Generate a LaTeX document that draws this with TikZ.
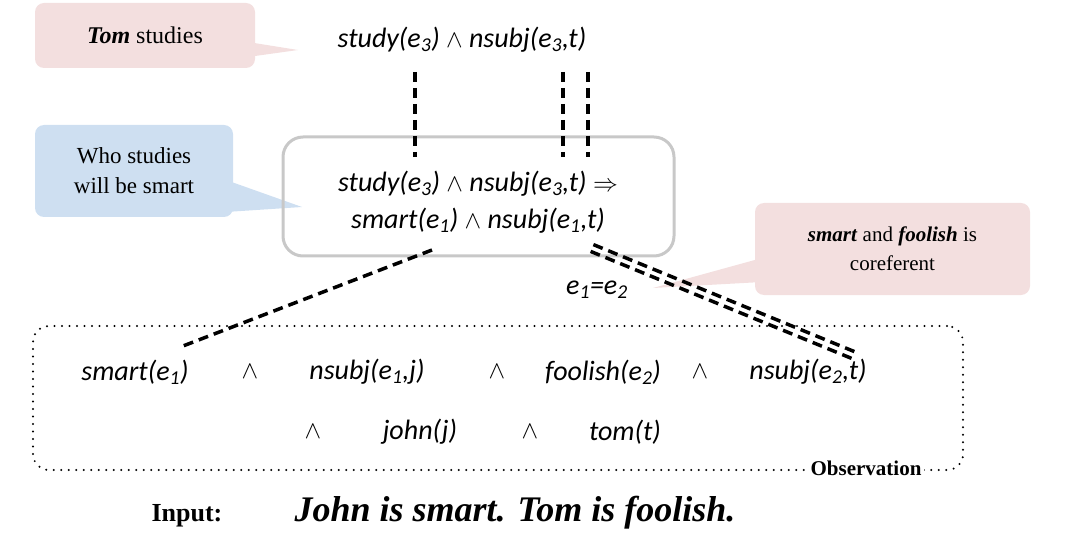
\documentclass[tikz,border=0pt]{standalone}
\usepackage{fontspec}
\setmainfont{Liberation Serif}
\newfontfamily\formfont{Carlito}

\definecolor{notepink}{HTML}{F3DFDF}
\definecolor{noteblue}{HTML}{CEDFF1}
\definecolor{boxgray}{HTML}{C8C8C8}

% evento con pedice
\newcommand{\ev}[1]{e\textsubscript{#1}}
\newcommand{\band}{{\fontsize{33}{37}\selectfont$\wedge$}}

\begin{document}
\begin{tikzpicture}[
		x=1pt, y=-1pt,
		% Stile per i fumetti (commenti in linguaggio naturale)
		note style/.style={rounded corners=9pt, inner sep=0pt, align=center,
			font=\fontsize{23}{30}\selectfont},
		% Stile per le formule logiche
		formula style/.style={inner sep=1pt, font=\formfont\itshape\fontsize{28}{37}\selectfont},
		% Stile per i collegamenti tratteggiati
		link style/.style={line width=3.5pt, dash pattern=on 10pt off 6pt},
		% Riquadro della regola e riquadro dell'osservazione
		rule style/.style={draw=boxgray, line width=3pt, rounded corners=20pt},
		obs style/.style={draw=black, line width=2.2pt, line cap=round,
			dash pattern=on 0pt off 7.5pt, rounded corners=16pt}
	]
	\useasboundingbox (0,0) rectangle (1065,537);

	% =================================
	% FATTO IN ALTO
	% =================================
	\node[note style, fill=notepink, minimum width=220, minimum height=65,
		font=\fontsize{24}{30}\selectfont] (tomnote) at (145,35.5)
		{\textbf{\textit{Tom}} studies};
	\fill[notepink] (248,42) -- (298,50) -- (248,57) -- cycle;
	\node[formula style] (fact) at (462,40) {study(\ev{3}) \band{} nsubj(\ev{3},t)};

	% =================================
	% REGOLA (Intermedio)
	% =================================
	\node[note style, fill=noteblue, minimum width=198, minimum height=92] (whonote) at (134,171)
		{Who studies\\will be smart};
	\fill[noteblue] (226,180) -- (302,207) -- (226,212) -- cycle;
	\node[rule style, minimum width=391, minimum height=119] (rule) at (478.5,196.5) {};
	\node[formula style, align=center] (ruletext) at (478,202)
		{study(\ev{3}) \band{} nsubj(\ev{3},t) $\Rightarrow$\\smart(\ev{1}) \band{} nsubj(\ev{1},t)};

	% =================================
	% COREFERENZA
	% =================================
	\node[note style, fill=notepink, minimum width=275, minimum height=92,
		font=\fontsize{21}{29}\selectfont] (corefnote) at (892.5,249)
		{\textbf{\textit{smart}} and \textbf{\textit{foolish}} is\\coreferent};
	\fill[notepink] (762,258) -- (653,288) -- (762,282) -- cycle;
	\node[formula style] (eq) at (597,290) {\ev{1}=\ev{2}};

	% =================================
	% OSSERVAZIONE (In basso)
	% =================================
	\node[obs style, minimum width=930, minimum height=144] (obs) at (498,398) {};
	\node[fill=white, inner sep=3pt, font=\bfseries\fontsize{21}{24}\selectfont] (obslabel)
		at (866,468) {Observation};

	% prima riga
	\node[formula style] (smart) at (135,372) {smart(\ev{1})};
	\node[formula style] (and1) at (250,372) {\band};
	\node[formula style] (nsubjj) at (367,372) {nsubj(\ev{1},j)};
	\node[formula style] (and2) at (497,372) {\band};
	\node[formula style] (foolish) at (603,372) {foolish(\ev{2})};
	\node[formula style] (and3) at (700,372) {\band};
	\node[formula style] (nsubjt) at (808,372) {nsubj(\ev{2},t)};
	% seconda riga
	\node[formula style] (and4) at (313,432) {\band};
	\node[formula style] (john) at (420,432) {john(j)};
	\node[formula style] (and5) at (530,432) {\band};
	\node[formula style] (tom) at (625,432) {tom(t)};

	% =================================
	% INPUT
	% =================================
	\node[anchor=base, inner sep=0pt, font=\bfseries\fontsize{26}{30}\selectfont] (inputlabel)
		at (187,521) {Input:};
	\node[anchor=base, inner sep=0pt, font=\bfseries\itshape\fontsize{36}{40}\selectfont] (sentence)
		at (515,521) {John is smart. Tom is foolish.};

	% =================================
	% CONNESSIONI (Tratteggi)
	% =================================
	\coordinate (studytop) at (415,72);
	\coordinate (studybot) at (415,157);
	\coordinate (evtop) at (563,72);
	\coordinate (evbot) at (563,157);
	\coordinate (subjtop) at (588,72);
	\coordinate (subjbot) at (588,157);
	\coordinate (smartfrom) at (432,250);
	\coordinate (smartto) at (183,346);
	\coordinate (corefrom) at (592,248);
	\coordinate (corefto) at (853,355);

	\draw[link style] (studytop) -- (studybot);
	\draw[link style] (evtop) -- (evbot);
	\draw[link style] (subjtop) -- (subjbot);
	\draw[link style] (smartfrom) -- (smartto);
	\draw[link style, transform canvas={shift={(-1.4,3.4)}}] (corefrom) -- (corefto);
	\draw[link style, transform canvas={shift={(1.4,-3.4)}}] (corefrom) -- (corefto);

\end{tikzpicture}
\end{document}
